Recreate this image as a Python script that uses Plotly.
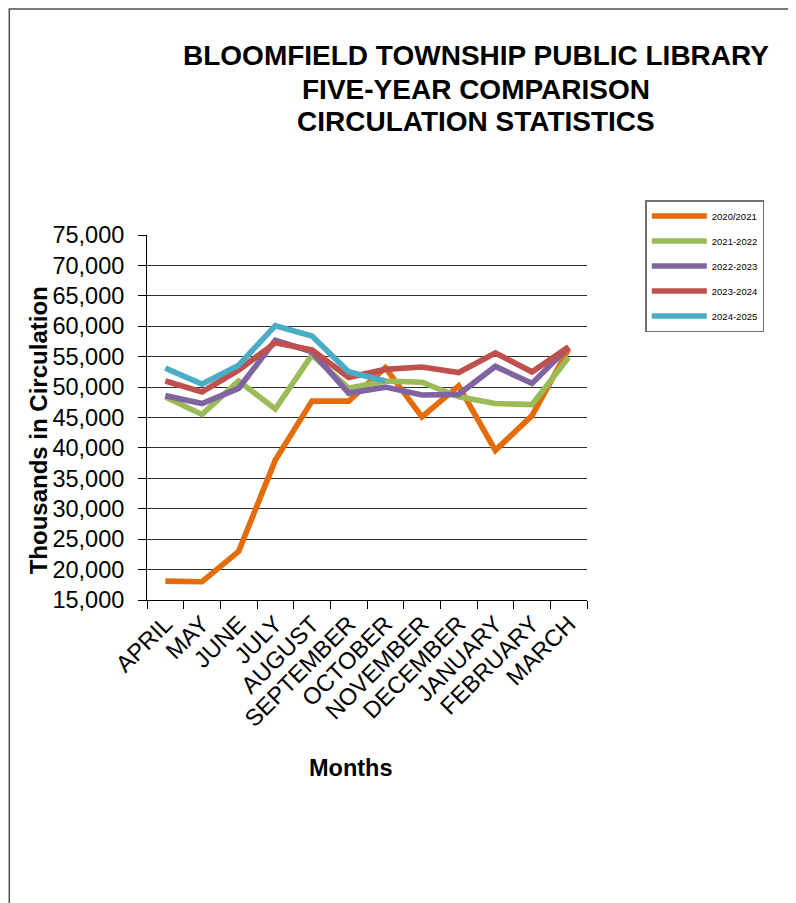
import plotly.graph_objects as go

months = ["APRIL", "MAY", "JUNE", "JULY", "AUGUST", "SEPTEMBER", "OCTOBER",
          "NOVEMBER", "DECEMBER", "JANUARY", "FEBRUARY", "MARCH"]
s2020_2021 = [18100, 18000, 23000, 38000, 47700, 47700, 53200, 45100, 50200, 39600, 45300, 56300]
s2021_2022 = [48400, 45500, 51000, 46400, 55300, 49800, 51000, 50800, 48400, 47300, 47100, 54900]
s2022_2023 = [48600, 47300, 49800, 57700, 55800, 49000, 50000, 48700, 48800, 53400, 50600, 56600]
s2023_2024 = [51000, 49200, 52800, 57300, 56100, 51600, 52900, 53300, 52400, 55600, 52500, 56600]
s2024_2025 = [53100, 50500, 53600, 60100, 58400, 52500, 51000, None, None, None, None, None]
series_names = ["2020/2021", "2021-2022", "2022-2023", "2023-2024", "2024-2025"]
series_colors = ["#E46C0A", "#9BBB59", "#8064A2", "#C0504D", "#4BACC6"]
y_ticks = list(range(15000, 75001, 5000))
title_lines = ["BLOOMFIELD TOWNSHIP PUBLIC LIBRARY", "FIVE-YEAR COMPARISON", "CIRCULATION STATISTICS"]

W, H = 796, 903
OFF = 8  # page body margin
# plot area in reference (screen) pixel coords
L, R, T, B = 146.7, 586.7, 235, 600
PW, PH = R - L, B - T


def px(x):
    return (x - L) / PW


def py(y):
    return (B - y) / PH


FONT = "Arial, Liberation Sans, sans-serif"

fig = go.Figure()
for i, (name, vals, col) in enumerate(zip(series_names,
                                          [s2020_2021, s2021_2022, s2022_2023, s2023_2024, s2024_2025],
                                          series_colors)):
    fig.add_trace(go.Scatter(x=months, y=vals, name=name, mode="lines",
                             line=dict(color=col, width=5.7),
                             legendgroup=f"g{i}", connectgaps=False))

fig.update_layout(
    width=W, height=H,
    margin=dict(l=L - OFF, r=W - (R - OFF), t=T - OFF, b=H - (B - OFF), pad=0),
    paper_bgcolor="white", plot_bgcolor="white",
    font=dict(family=FONT, color="black"),
    showlegend=True,
    legend=dict(x=px(645), y=py(200), xanchor="left", yanchor="top",
                bordercolor="#707070", borderwidth=1.5, bgcolor="white",
                font=dict(size=9.5, family=FONT), traceorder="grouped",
                tracegroupgap=6, itemwidth=55),
    xaxis=dict(type="category", tickson="boundaries", ticks="outside", ticklen=8,
               tickcolor="black", showline=True, linecolor="black", linewidth=1,
               showgrid=False, tickangle=-45, tickfont=dict(size=23.5, family=FONT),
               range=[-0.5, 11.5]),
    yaxis=dict(range=[15000, 75000], tickvals=y_ticks, tickformat=",d",
               ticks="outside", ticklen=8, tickcolor="black", showline=True,
               linecolor="black", linewidth=1, showgrid=True, gridcolor="#303030",
               gridwidth=1, tickfont=dict(size=23.5, family=FONT), zeroline=False,
               ticklabelstandoff=9),
)

for line_text, yc in zip(title_lines, [56, 89, 121.5]):
    fig.add_annotation(text=f"<b>{line_text}</b>",
                       x=px(476), y=py(yc), xref="paper", yref="paper", showarrow=False,
                       xanchor="center", yanchor="middle", font=dict(size=28, family=FONT))
fig.add_annotation(text="<b>Thousands in Circulation</b>", textangle=-90,
                   x=px(38), y=py(430), xref="paper", yref="paper", showarrow=False,
                   xanchor="center", yanchor="middle", font=dict(size=24, family=FONT))
fig.add_annotation(text="<b>Months</b>",
                   x=px(351), y=py(768), xref="paper", yref="paper", showarrow=False,
                   xanchor="center", yanchor="middle", font=dict(size=23.5, family=FONT))

fig.add_shape(type="rect", xref="paper", yref="paper",
              x0=px(9), y0=py(930), x1=px(830), y1=py(9),
              line=dict(color="#505050", width=1.5), fillcolor="rgba(0,0,0,0)", layer="above")

fig.write_html("out.html")
